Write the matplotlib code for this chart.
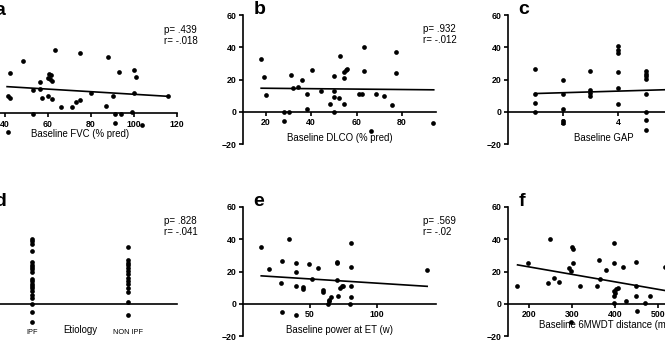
import numpy as np
import matplotlib.pyplot as plt

plt.rcParams['font.family'] = ['Liberation Sans', 'DejaVu Sans']

# a: baseline FVC (% pred)
fvc_x = [42.3, 41.2, 42.3, 41.2, 48.2, 53.1, 53.1, 56.2, 56.2, 57.3, 60.0, 61.0,
         60.5, 61.5, 61.8, 60.2, 62.1, 63.2, 66.3, 71.2, 73.2, 75.0, 75.0, 80.2,
         87.1, 88.2, 90.2, 91.3, 91.3, 93.3, 94.0, 99.2, 100.0, 100.2, 101.0,
         104.1, 116.1]
fvc_y = [25.0, 10.5, 9.7, -11.5, 32.6, 14.4, -0.4, 19.6, 15.1, 9.7, 22.1, 21.2,
         24.3, 23.7, 20.2, 10.7, 9.1, 39.4, 4.1, 4.1, 6.8, 8.3, 37.1, 12.6,
         4.8, 34.6, 10.5, -0.4, -6.0, 25.4, -0.4, 1.0, 12.4, 26.6, 22.6,
         -7.2, 10.5]
fvc_fit_x = [41, 116]
fvc_fit_y = [16.5, 10.5]

# b: baseline DLCO (% pred)
dlco_x = [18.1, 19.1, 20.3, 28.0, 30.3, 28.0, 31.2, 32.2, 34.4, 36.2, 38.3, 38.3,
          40.2, 44.3, 48.3, 50.2, 50.2, 50.2, 50.2, 52.3, 52.6, 54.3, 54.3, 54.5,
          55.4, 55.7, 61.3, 62.6, 63.5, 63.5, 66.4, 68.4, 72.2, 75.6, 77.5, 77.5,
          93.6]
dlco_y = [32.9, 21.3, 10.1, 0.0, 0.0, -5.6, 23.1, 14.7, 15.5, 20.0, 11.0, 1.4,
          25.6, 13.0, 5.0, 22.3, 13.0, 9.3, 0.0, 8.5, 34.8, 21.0, 24.7, 4.5,
          26.2, 26.8, 11.0, 11.0, 40.2, 25.0, -11.8, 11.0, 9.9, 4.3, 37.3, 24.3,
          -7.0]
dlco_fit_x = [18, 94]
dlco_fit_y = [14.6, 13.6]

# c: baseline GAP
gap_x = [1, 1, 1, 1,
         2, 2, 2, 2, 2,
         3, 3, 3, 3,
         4, 4, 4, 4, 4, 4,
         5, 5, 5, 5, 5, 5, 5, 5]
gap_y = [26.8, 10.9, 5.2, 0.0,
         20.0, 10.9, 1.6, -5.6, -7.2,
         25.4, 13.2, 11.5, 9.5,
         40.6, 38.6, 36.7, 24.4, 14.8, 4.6,
         25.4, 23.7, 22.1, 20.4, 10.8, 0.0, -5.1, -11.3]
gap_fit_x = [1, 7]
gap_fit_y = [11.3, 14.3]

# d: etiology
etiology = ['IPF', 'NON IPF']
ipf_y = [40.2, 38.8, 37.3, 33.0, 26.0, 24.3, 22.9, 21.6, 20.0, 15.5, 14.0, 12.4,
         10.9, 9.5, 7.8, 5.4, 3.3, 0.0, -5.2, -11.3]
non_ipf_y = [35.3, 27.0, 25.4, 23.9, 22.3, 20.2, 18.6, 16.1, 14.0, 12.0, 9.9,
             7.4, 1.2, -7.0]

# e: baseline power at ET (w)
power_x = [13.6, 19.1, 28.2, 29.2, 29.2, 34.2, 39.6, 39.6, 39.6, 39.6, 44.6, 44.6,
           49.5, 51.7, 55.9, 59.9, 59.9, 63.1, 63.9, 64.4, 65.3, 70.3, 70.3, 70.3,
           70.8, 72.3, 73.8, 74.8, 80.7, 80.7, 80.7, 80.7, 79.7, 137.4]
power_y = [35.0, 21.4, 13.0, 26.8, -5.4, 40.0, 25.2, 20.0, 11.1, -7.0, 10.3, 8.9,
           24.5, 15.3, 22.3, 8.5, 7.2, 0.0, 1.4, 2.5, 4.3, 25.2, 25.8, 14.8,
           4.9, 9.9, 10.7, 11.1, 37.5, 23.1, 11.1, 4.1, 0.0, 21.0]
power_fit_x = [13.6, 137.4]
power_fit_y = [17.3, 10.8]

# f: baseline 6MWDT distance (m)
walk_x = [172.8, 198.4, 244.3, 249.0, 259.0, 269.2, 293.2, 297.9, 299.5, 303.3,
          303.3, 297.0, 319.7, 359.3, 363.2, 365.5, 379.5, 398.9, 398.9, 398.9,
          400.5, 403.6, 406.7, 398.9, 398.9, 419.1, 426.9, 450.2, 450.2, 450.2,
          451.0, 471.2, 482.8, 517.8]
walk_y = [10.7, 25.4, 13.0, 40.4, 15.7, 13.4, 21.9, 20.6, 35.5, 33.8,
          25.0, -11.1, 11.3, 11.3, 27.2, 15.1, 21.2, 37.7, 25.4, 8.2,
          6.8, 9.3, 9.9, 4.9, 0.6, 22.7, 1.6, 25.8, 11.3, 4.7,
          -4.7, 0.6, 4.7, 23.1]
walk_fit_x = [173, 560]
walk_fit_y = [24.1, 6.2]


def setup_panel(ax, xlim, xticks, letter, xlabel=None, labelpad=3, stats=None):
    ax.set_xlim(*xlim)
    ax.set_ylim(-20, 60)
    ax.set_yticks([-20, 0, 20, 40, 60])
    ax.set_xticks(xticks)
    for side in ['top', 'right']:
        ax.spines[side].set_visible(False)
    ax.spines['bottom'].set_position(('data', 0))
    for side in ['left', 'bottom']:
        ax.spines[side].set_linewidth(1.2)
    ax.tick_params(direction='out', length=3, width=1.2, pad=1.5, labelsize=6.3)
    plt.setp(ax.get_xticklabels() + ax.get_yticklabels(), fontweight='bold')
    if xlabel:
        ax.set_xlabel(xlabel, fontsize=6.9, labelpad=labelpad)
    ax.text(0.055, 1.01, letter, transform=ax.transAxes, fontsize=14,
            fontweight='bold', va='baseline')
    if stats:
        ax.text(0.935, 0.87, 'p= ' + stats[0], transform=ax.transAxes,
                fontsize=7, va='baseline')
        ax.text(0.935, 0.785, 'r= ' + stats[1], transform=ax.transAxes,
                fontsize=7, va='baseline')


def dots(ax, xs, ys):
    ax.plot(xs, ys, 'o', color='black', ms=3.4, mew=0, clip_on=False)


fig = plt.figure(figsize=(6.65, 3.49), dpi=100)

W, H = 665.0, 349.0
col_left = [-16.5, 243.0, 507.7]
ax_w = 193.0 / W
ax_h = 129.0 / H
top_bottom = 1 - 144.0 / H
bot_bottom = 1 - 336.0 / H

ax_a = fig.add_axes([col_left[0] / W, top_bottom - 1.5 / H, ax_w, ax_h])
ax_b = fig.add_axes([col_left[1] / W, top_bottom, ax_w, ax_h])
ax_c = fig.add_axes([col_left[2] / W, top_bottom, ax_w, ax_h])
ax_d = fig.add_axes([col_left[0] / W, bot_bottom, ax_w, ax_h])
ax_e = fig.add_axes([col_left[1] / W, bot_bottom, ax_w, ax_h])
ax_f = fig.add_axes([col_left[2] / W, bot_bottom, ax_w, ax_h])

# a
dots(ax_a, fvc_x, fvc_y)
ax_a.plot(fvc_fit_x, fvc_fit_y, color='black', lw=1.2)
setup_panel(ax_a, (30, 120), [40, 60, 80, 100, 120], 'a',
            'Baseline FVC (% pred)', labelpad=0.5, stats=('.439', '-.018'))

# b
dots(ax_b, dlco_x, dlco_y)
ax_b.plot(dlco_fit_x, dlco_fit_y, color='black', lw=1.2)
setup_panel(ax_b, (10, 95), [20, 40, 60, 80], 'b',
            'Baseline DLCO (% pred)', labelpad=4, stats=('.932', '-.012'))

# c
dots(ax_c, gap_x, gap_y)
ax_c.plot(gap_fit_x, gap_fit_y, color='black', lw=1.2)
setup_panel(ax_c, (0, 7), [2, 4, 6], 'c', 'Baseline GAP', labelpad=4)

# d
dots(ax_d, [1] * len(ipf_y), ipf_y)
dots(ax_d, [2] * len(non_ipf_y), non_ipf_y)
setup_panel(ax_d, (0.5, 2.5), [], 'd', stats=('.828', '-.041'))
for i, name in enumerate(etiology):
    ax_d.text(i + 1, 0.026, name, transform=ax_d.get_xaxis_transform(),
              fontsize=5.3, ha='center', va='center')
ax_d.text(0.5, 0.049, 'Etiology', transform=ax_d.transAxes,
          fontsize=6.9, ha='center', va='center')

# e
dots(ax_e, power_x, power_y)
ax_e.plot(power_fit_x, power_fit_y, color='black', lw=1.2)
setup_panel(ax_e, (0, 144), [50, 100], 'e',
            'Baseline power at ET (w)', labelpad=4, stats=('.569', '-.02'))

# f
dots(ax_f, walk_x, walk_y)
ax_f.plot(walk_fit_x, walk_fit_y, color='black', lw=1.2)
setup_panel(ax_f, (150, 600), [200, 300, 400, 500, 600], 'f',
            'Baseline 6MWDT distance (m)', labelpad=0.5)

fig.savefig('out.png', dpi=100)
